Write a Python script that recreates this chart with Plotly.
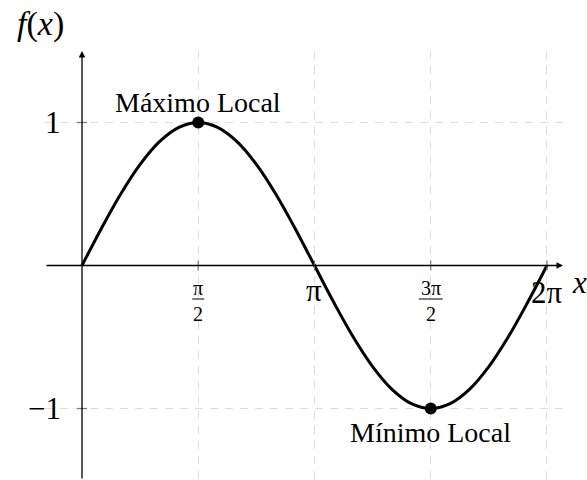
import numpy as np
import plotly.graph_objects as go

# sampled points of f(x) on [0, 2π], x given as multiples of π
x_pi = [0, 1/12, 2/12, 3/12, 4/12, 5/12, 6/12, 7/12, 8/12, 9/12, 10/12, 11/12, 1,
        13/12, 14/12, 15/12, 16/12, 17/12, 18/12, 19/12, 20/12, 21/12, 22/12, 23/12, 2]
f_vals = [0, 0.259, 0.5, 0.707, 0.866, 0.966, 1, 0.966, 0.866, 0.707, 0.5, 0.259, 0,
          -0.259, -0.5, -0.707, -0.866, -0.966, -1, -0.966, -0.866, -0.707, -0.5, -0.259, 0]

# local extrema
ext_x_pi = [0.5, 1.5]
ext_y = [1, -1]
ext_labels = ["Máximo Local", "Mínimo Local"]
ext_shift = [20, -24]

# axis ticks
xtick_pi = [0.5, 1, 1.5, 2]
ytick_vals = [1, -1]
ytick_labels = ["1", "−1"]

x_vals = np.pi * np.array(x_pi)
ext_x = np.pi * np.array(ext_x_pi)
xticks = np.pi * np.array(xtick_pi)

SERIF = "Liberation Serif"
BIG = 31
FRAC = 20

fig = go.Figure()
fig.add_trace(go.Scatter(x=x_vals, y=f_vals, mode="lines", line=dict(color="black", width=3, shape="spline"),
                         hoverinfo="skip"))
fig.add_trace(go.Scatter(x=ext_x, y=ext_y, mode="markers", marker=dict(color="black", size=12),
                         hoverinfo="skip"))

ann = []
shapes = []

# axes with arrow tips
ann.append(dict(x=6.5, y=0, ax=-0.5, ay=0, xref="x", yref="y", axref="x", ayref="y", text="",
                showarrow=True, arrowhead=2, arrowsize=1, arrowwidth=1.3, arrowcolor="black", standoff=0))
ann.append(dict(x=0, y=1.5, ax=0, ay=-1.5, xref="x", yref="y", axref="x", ayref="y", text="",
                showarrow=True, arrowhead=2, arrowsize=1, arrowwidth=1.3, arrowcolor="black", standoff=0))

# tick marks
for xv in xticks:
    shapes.append(dict(type="line", xref="x", yref="y", ysizemode="pixel", yanchor=0,
                       x0=xv, x1=xv, y0=-5, y1=5, line=dict(color="#777777", width=1.2)))
for yv in ytick_vals:
    shapes.append(dict(type="line", xref="x", yref="y", xsizemode="pixel", xanchor=0,
                       x0=-5, x1=5, y0=yv, y1=yv, line=dict(color="#777777", width=1.2)))

# y tick labels
for yv, lab in zip(ytick_vals, ytick_labels):
    ann.append(dict(x=0, y=yv, xref="x", yref="y", text=lab, showarrow=False, xanchor="right",
                    xshift=-19, font=dict(family=SERIF, size=BIG, color="black")))

# x tick labels: stacked fractions for π/2 and 3π/2, plain for π and 2π
def frac(xv, num):
    ann.append(dict(x=xv, y=0, xref="x", yref="y", text=num + "<br>2", showarrow=False, yshift=-35,
                    font=dict(family=SERIF, size=FRAC, color="black")))
    w = 6 if num == "π" else 12
    shapes.append(dict(type="line", xref="x", yref="y", xsizemode="pixel", ysizemode="pixel",
                       xanchor=xv, yanchor=0, x0=-w, x1=w, y0=-33.5, y1=-33.5,
                       line=dict(color="black", width=1)))

frac(xticks[0], "π")
frac(xticks[2], "3π")
ann.append(dict(x=xticks[1], y=0, xref="x", yref="y", text="π", showarrow=False, yshift=-25,
                font=dict(family=SERIF, size=BIG, color="black")))
ann.append(dict(x=xticks[3], y=0, xref="x", yref="y", text="2π", showarrow=False, yshift=-27,
                font=dict(family=SERIF, size=BIG, color="black")))

# axis titles
ann.append(dict(x=6.5, y=0, xref="x", yref="y", text="<i>x</i>", showarrow=False, xshift=16, yshift=-17,
                font=dict(family=SERIF, size=BIG, color="black")))
ann.append(dict(x=0, y=1.5, xref="x", yref="y", text="<i>f</i>(<i>x</i>)", showarrow=False,
                xshift=-42, yshift=27, font=dict(family=SERIF, size=34, color="black")))

# extrema labels
for xv, yv, lab, sh in zip(ext_x, ext_y, ext_labels, ext_shift):
    ann.append(dict(x=xv, y=yv, xref="x", yref="y", text=lab, showarrow=False, yshift=sh,
                    font=dict(family=SERIF, size=28, color="black")))

fig.update_layout(
    width=587, height=480,
    margin=dict(l=45, r=24, t=51, b=0),
    paper_bgcolor="white", plot_bgcolor="white",
    showlegend=False,
    annotations=ann, shapes=shapes,
    xaxis=dict(range=[-0.5, 6.5], tickvals=xticks, showticklabels=False, ticks="",
               showgrid=True, gridcolor="#dddddd", gridwidth=1, griddash="8px,7px",
               zeroline=False, showline=False, fixedrange=True),
    yaxis=dict(range=[-1.5, 1.5], tickvals=ytick_vals, showticklabels=False, ticks="",
               showgrid=True, gridcolor="#dddddd", gridwidth=1, griddash="8px,7px",
               zeroline=False, showline=False, fixedrange=True),
)

fig.write_html("out.html")
